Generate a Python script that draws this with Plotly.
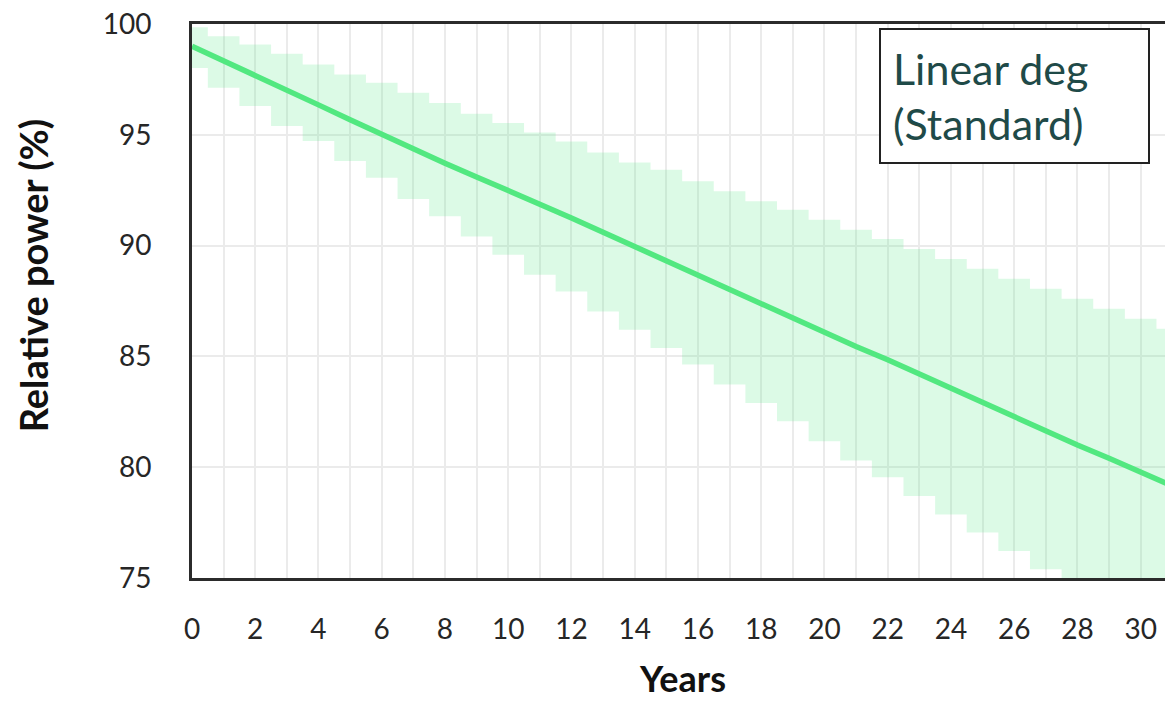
import plotly.graph_objects as go

years = list(range(0, 32))

upper = [99.85, 99.45, 99.08, 98.66, 98.17, 97.72, 97.35, 96.90, 96.43, 95.95,
         95.53, 95.10, 94.70, 94.20, 93.75, 93.42, 92.90, 92.45, 92.00, 91.62,
         91.17, 90.72, 90.30, 89.85, 89.40, 88.95, 88.50, 88.05, 87.60, 87.15,
         86.70, 86.25]

lower = [98.02, 97.12, 96.30, 95.40, 94.72, 93.82, 93.06, 92.10, 91.32, 90.41,
         89.59, 88.69, 87.93, 87.03, 86.20, 85.38, 84.63, 83.73, 82.90, 82.07,
         81.17, 80.30, 79.55, 78.70, 77.87, 77.05, 76.22, 75.40, 74.60, 73.80,
         73.00, 72.20]

mean = [99.00, 98.35, 97.68, 97.02, 96.35, 95.68, 95.02, 94.35, 93.72, 93.10,
        92.50, 91.90, 91.25, 90.60, 89.95, 89.30, 88.65, 88.00, 87.35, 86.70,
        86.05, 85.45, 84.85, 84.20, 83.55, 82.90, 82.30, 81.65, 81.00, 80.40,
        79.80, 79.15]

x_ticks = list(range(0, 31, 2))
y_ticks = [75, 80, 85, 90, 95, 100]

FONT = "Lato"
BAND = "rgba(80,230,130,0.2)"
LINE = "rgb(82,232,128)"

fig = go.Figure()
fig.add_trace(go.Scatter(x=years, y=lower, mode="lines", line=dict(width=0, shape="hvh"),
                         showlegend=False, hoverinfo="skip"))
fig.add_trace(go.Scatter(x=years, y=upper, mode="lines", line=dict(width=0, shape="hvh"),
                         fill="tonexty", fillcolor=BAND, showlegend=False, hoverinfo="skip"))
fig.add_trace(go.Scatter(x=years, y=mean, mode="lines", line=dict(color=LINE, width=5.5),
                         showlegend=False))

fig.update_layout(
    width=1165, height=702,
    margin=dict(l=192, r=0, t=24, b=124),
    paper_bgcolor="white", plot_bgcolor="white",
    font=dict(family=FONT, color="#262626"),
    xaxis=dict(range=[0, 30.77], tickvals=x_ticks, showgrid=True, gridcolor="#ebebeb", gridwidth=1.5,
               minor=dict(dtick=1, tick0=0, showgrid=True, gridcolor="#ebebeb", gridwidth=1.5),
               showline=True, linecolor="#2b2b2b", linewidth=3, mirror=True,
               ticks="", tickfont=dict(size=28, family=FONT, color="#262626"),
               ticklabelstandoff=24, zeroline=False),
    yaxis=dict(range=[75, 100], tickvals=y_ticks, showgrid=True, gridcolor="#ebebeb", gridwidth=1.5,
               showline=True, linecolor="#2b2b2b", linewidth=3, mirror=False,
               ticks="", tickfont=dict(size=28, family=FONT, color="#262626"),
               ticklabelstandoff=32, zeroline=False),
    annotations=[
        dict(text="Relative power (%)", xref="paper", yref="paper", x=-0.163, y=0.547,
             xanchor="center", yanchor="middle", textangle=-90, showarrow=False,
             font=dict(size=38, family=FONT, color="#111111", weight="bold")),
        dict(text="Years", xref="paper", yref="paper", x=0.5046, y=-0.2238,
             xanchor="center", yanchor="bottom", showarrow=False,
             font=dict(size=36, family=FONT, color="#111111", weight="bold")),
        dict(text="Linear deg<br>(Standard)", xref="paper", yref="paper", x=0.706, y=0.993,
             xanchor="left", yanchor="top", showarrow=False, align="left",
             width=243, height=108, borderpad=12, bordercolor="#222222", borderwidth=2,
             bgcolor="white", font=dict(size=43, family=FONT, color="#1f4a48")),
    ],
)

fig.write_html("out.html")
